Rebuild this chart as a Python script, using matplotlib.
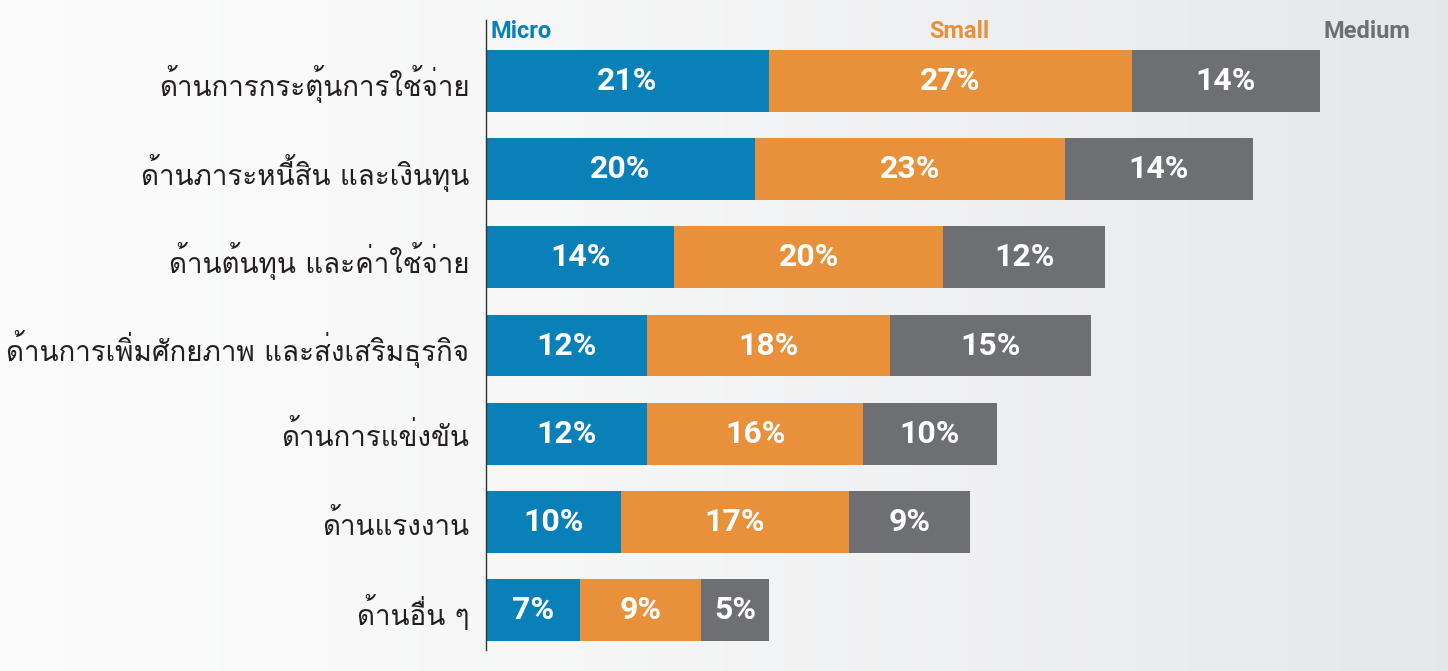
import matplotlib
matplotlib.use('Agg')
import matplotlib.pyplot as plt
from matplotlib import font_manager
from matplotlib.ft2font import FT2Font
import numpy as np

# Dane
categories = ['ด้านการกระตุ้นการใช้จ่าย', 'ด้านภาระหนี้สิน และเงินทุน', 'ด้านต้นทุน และค่าใช้จ่าย',
              'ด้านการเพิ่มศักยภาพ และส่งเสริมธุรกิจ', 'ด้านการแข่งขัน', 'ด้านแรงงาน', 'ด้านอื่น ๆ']
series_names = ['Micro', 'Small', 'Medium']
micro = [21, 20, 14, 12, 12, 10, 7]
small = [27, 23, 20, 18, 16, 17, 9]
medium = [14, 14, 12, 15, 10, 9, 5]
colors = ['#0a80b8', '#e8913a', '#6e6f72']


# Szukanie czcionki z tajskimi znakami
def find_thai_font():
    names = []
    for f in font_manager.fontManager.ttflist:
        try:
            cmap = FT2Font(f.fname).get_charmap()
        except Exception:
            continue
        if ord('ด') in cmap:
            names.append(f.name)
    return names


thai = find_thai_font()
label_family = [thai[0], 'DejaVu Sans'] if thai else ['DejaVu Sans']

num_font = 'Liberation Sans Narrow'
if num_font not in {f.name for f in font_manager.fontManager.ttflist}:
    num_font = 'Roboto'

fig = plt.figure(figsize=(14.48, 6.71), dpi=100)

# Tło z gradientem
bg = fig.add_axes([0, 0, 1, 1])
grad = np.linspace(0, 1, 256) ** 1.5
bg_img = np.ones((2, 256, 3))
start = np.array([0.985, 0.985, 0.985])
end = np.array([0.90, 0.905, 0.915])
for k in range(3):
    bg_img[:, :, k] = start[k] + (end[k] - start[k]) * grad
bg.imshow(bg_img, aspect='auto', extent=[0, 1, 0, 1])
bg.axis('off')

ax = fig.add_axes([486 / 1448, 21 / 671, 962 / 1448, 630 / 671])
ax.patch.set_alpha(0)
y = np.arange(len(categories))
left = np.zeros(len(categories))
for vals, c in zip([micro, small, medium], colors):
    bars = ax.barh(y, vals, left=left, height=0.70, color=c)
    for rect, v in zip(bars, vals):
        ax.text(rect.get_x() + rect.get_width() / 2, rect.get_y() + rect.get_height() / 2,
                f'{v}%', ha='center', va='center', color='white', fontsize=23,
                fontweight='bold', family=num_font)
    left += np.array(vals)

ax.set_xlim(0, 71.5)
ax.set_ylim(6.45, -0.69)
ax.set_yticks(y)
ax.set_yticklabels(categories, family=label_family, fontsize=20, color='#231f20')
ax.tick_params(axis='y', length=0, pad=12)
ax.set_xticks([])
for s in ['top', 'right', 'bottom']:
    ax.spines[s].set_visible(False)
ax.spines['left'].set_color('#333333')
ax.spines['left'].set_linewidth(1.0)

# Legenda nad słupkami
ax.text(0.3, -0.56, series_names[0], ha='left', va='center', color=colors[0],
        fontsize=17, fontweight='bold', family=num_font)
ax.text(35.2, -0.56, series_names[1], ha='center', va='center', color=colors[1],
        fontsize=17, fontweight='bold', family=num_font)
ax.text(68.7, -0.56, series_names[2], ha='right', va='center', color=colors[2],
        fontsize=17, fontweight='bold', family=num_font)

plt.savefig('out.png', dpi=100)
